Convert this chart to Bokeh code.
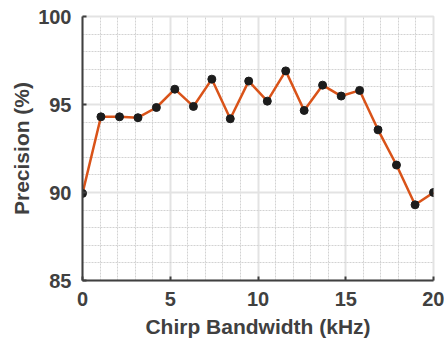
from bokeh.plotting import figure
from bokeh.models import FixedTicker, Range1d
from bokeh.embed import file_html
from bokeh.resources import INLINE

# Data
bandwidth_khz = [0, 1.05, 2.11, 3.16, 4.21, 5.26, 6.32, 7.37, 8.42, 9.47,
                 10.53, 11.58, 12.63, 13.68, 14.74, 15.79, 16.84, 17.89, 18.95, 20]
precision_pct = [89.95, 94.30, 94.30, 94.25, 94.83, 95.87, 94.89, 96.44, 94.19, 96.33,
                 95.19, 96.91, 94.66, 96.10, 95.48, 95.80, 93.56, 91.56, 89.30, 90.00]
x_ticks = [0, 5, 10, 15, 20]
x_minor = list(range(0, 21))
y_ticks = [85, 90, 95, 100]
y_minor = list(range(85, 101))

FONT = "Liberation Sans"
DARK = "#404040"

p = figure(frame_width=351, frame_height=264, output_backend="svg", toolbar_location=None,
           x_range=Range1d(0, 20), y_range=Range1d(85, 100),
           min_border_left=82, min_border_right=11, min_border_top=16, min_border_bottom=61)

p.background_fill_color = "white"
p.border_fill_color = "white"
p.outline_line_color = "#e3e3e3"
p.outline_line_width = 2

xt = FixedTicker(ticks=x_ticks, minor_ticks=x_minor)
yt = FixedTicker(ticks=y_ticks, minor_ticks=y_minor)
p.xaxis.ticker = xt
p.yaxis.ticker = yt
p.xgrid.ticker = xt
p.ygrid.ticker = yt

for g in (p.xgrid, p.ygrid):
    g.grid_line_color = "#e3e3e3"
    g.grid_line_width = 2
    g.minor_grid_line_color = "#d2d2d2"
    g.minor_grid_line_dash = "2 1"
    g.minor_grid_line_width = 1

for ax in (p.xaxis, p.yaxis):
    ax.axis_line_color = DARK
    ax.axis_line_width = 2
    ax.major_tick_line_color = DARK
    ax.major_tick_line_width = 2
    ax.major_tick_in = 4
    ax.major_tick_out = 0
    ax.minor_tick_line_color = None
    ax.major_label_text_font = FONT
    ax.major_label_text_font_style = "bold"
    ax.major_label_text_font_size = "20px"
    ax.major_label_text_color = DARK
    ax.axis_label_text_font = FONT
    ax.axis_label_text_font_style = "bold"
    ax.axis_label_text_font_size = "21px"
    ax.axis_label_text_color = DARK

p.xaxis.axis_label = "Chirp Bandwidth (kHz)"
p.yaxis.axis_label = "Precision (%)"
p.xaxis.major_label_standoff = 7
p.yaxis.major_label_standoff = 7
p.xaxis.axis_label_standoff = 6
p.yaxis.axis_label_standoff = 2

p.line(bandwidth_khz, precision_pct, line_color="#D95319", line_width=2.5)
p.scatter(bandwidth_khz, precision_pct, size=8, fill_color="#1c1c1c", line_color="#1c1c1c")

open("out.html", "w").write(file_html(p, INLINE))
